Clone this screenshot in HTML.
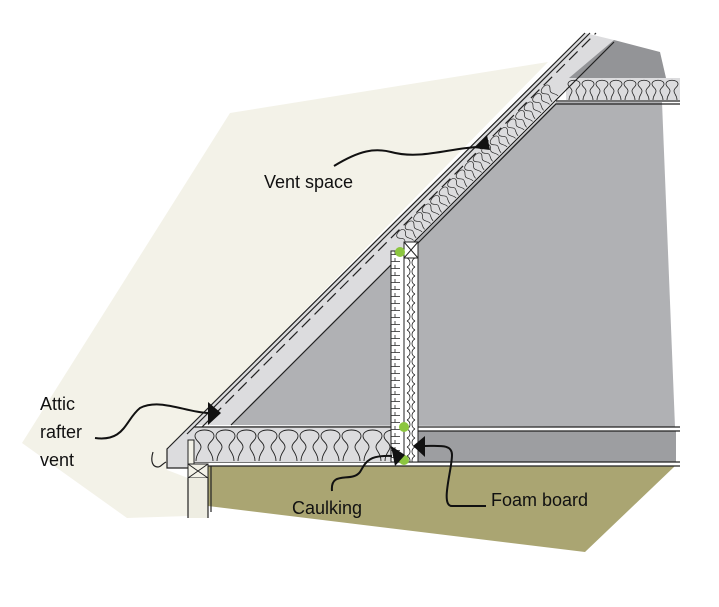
<!DOCTYPE html>
<html><head><meta charset="utf-8"><style>
html,body{margin:0;padding:0;background:#fff}
svg{display:block}
text{font-family:"Liberation Sans",sans-serif;font-size:18px;fill:#111}
</style></head><body>
<svg width="719" height="607" viewBox="0 0 719 607" xmlns="http://www.w3.org/2000/svg">
<defs>
<path id="sl" d="M1,0 C1,-5 4,-6 4,-9 C4,-12 0,-13 0,-16 C0,-21 12,-21 12,-16 C12,-13 8,-12 8,-9 C8,-6 11,-5 11,0" fill="none" stroke="#222" stroke-width="0.8"/>
<path id="bl" d="M2,0 C2,-8 7,-10 7,-14 C7,-19 1,-20 1,-25 C1,-33 20,-33 20,-25 C20,-20 14,-19 14,-14 C14,-10 19,-8 19,0" fill="none" stroke="#222" stroke-width="0.9"/>
<pattern id="lad" width="13" height="7" patternUnits="userSpaceOnUse" x="391" y="251">
<rect width="13" height="7" fill="#fff"/><path d="M0,3.5H9M4,0V3.5" stroke="#222" stroke-width="0.8"/>
</pattern>
<pattern id="wav" width="14" height="9" patternUnits="userSpaceOnUse" x="404" y="258">
<rect width="14" height="9" fill="#fff"/><path d="M3,0 C7,2 7,7 3,9 M11,0 C7,2 7,7 11,9" stroke="#222" stroke-width="0.8" fill="none"/>
</pattern>
</defs>
<polygon points="230,113 548,62 169,449 167,470 188,478 188,516 127,518 22,443" fill="#f3f2e8"/>
<polygon points="208,466 675,466 585,552 208,506" fill="#aaa572"/>
<polygon points="585,33 614,40 231,425 194,425 194,462 188,468 167,468 167,449" fill="#dcdcde"/>
<polygon points="231,425 556,102 662,102 675,427" fill="#b0b1b4"/>
<polygon points="614,40 660,52 666,78 569,78" fill="#939497"/>
<rect x="418" y="431" width="258" height="31" fill="#9d9ea1"/>
<rect x="566" y="78" width="114" height="22" fill="#dcdcde"/>
<g transform="translate(568,100)">
<use href="#sl" x="0"/><use href="#sl" x="14"/><use href="#sl" x="28"/><use href="#sl" x="42"/><use href="#sl" x="56"/><use href="#sl" x="70"/><use href="#sl" x="84"/><use href="#sl" x="98"/>
</g>
<g>
<use href="#sl" transform="translate(407,247) rotate(-45) scale(0.85)"/>
<use href="#sl" transform="translate(415.5,238.5) rotate(-45) scale(0.85)"/>
<use href="#sl" transform="translate(424,230) rotate(-45) scale(0.85)"/>
<use href="#sl" transform="translate(432.5,221.5) rotate(-45) scale(0.85)"/>
<use href="#sl" transform="translate(441,213) rotate(-45) scale(0.85)"/>
<use href="#sl" transform="translate(449.5,204.5) rotate(-45) scale(0.85)"/>
<use href="#sl" transform="translate(458,196) rotate(-45) scale(0.85)"/>
<use href="#sl" transform="translate(466.5,187.5) rotate(-45) scale(0.85)"/>
<use href="#sl" transform="translate(475,179) rotate(-45) scale(0.85)"/>
<use href="#sl" transform="translate(483.5,170.5) rotate(-45) scale(0.85)"/>
<use href="#sl" transform="translate(492,162) rotate(-45) scale(0.85)"/>
<use href="#sl" transform="translate(500.5,153.5) rotate(-45) scale(0.85)"/>
<use href="#sl" transform="translate(509,145) rotate(-45) scale(0.85)"/>
<use href="#sl" transform="translate(517.5,136.5) rotate(-45) scale(0.85)"/>
<use href="#sl" transform="translate(526,128) rotate(-45) scale(0.85)"/>
<use href="#sl" transform="translate(534.5,119.5) rotate(-45) scale(0.85)"/>
<use href="#sl" transform="translate(543,111) rotate(-45) scale(0.85)"/>
<use href="#sl" transform="translate(551.5,102.5) rotate(-45) scale(0.85)"/>
</g>
<g stroke="#222" fill="none" stroke-width="1.2">
<path d="M169,447 L585,33"/>
<path d="M187,434 L590,33"/>
<path d="M200,429 L596,33" stroke-dasharray="12,6"/>
<path d="M231,425 L614,42"/>
<path d="M418,243 L556,104 H680"/>
<path d="M556,101 H680"/>
<path d="M231,427 H680"/>
<path d="M418,431 H680"/>
<path d="M194,462 H680 M208,466 H680"/>
<path d="M169,447 L167,449 V468 H188"/>
<path d="M153,452 C150,462 153,467 158,467 C161,467 162,464 166,462"/>
</g>
<rect x="194" y="427" width="210" height="35" fill="#dcdcde"/>
<g transform="translate(194,461)">
<use href="#bl" x="0"/><use href="#bl" x="21"/><use href="#bl" x="42"/><use href="#bl" x="63"/><use href="#bl" x="84"/><use href="#bl" x="105"/><use href="#bl" x="126"/><use href="#bl" x="147"/><use href="#bl" x="168"/><use href="#bl" x="189"/>
</g>
<path d="M194,427 H404" stroke="#222" stroke-width="1.2"/>
<rect x="188" y="440" width="6" height="24" fill="#f3f2e8" stroke="#222" stroke-width="1"/>
<rect x="188" y="464" width="20" height="14" fill="#f3f2e8" stroke="#222" stroke-width="1"/>
<path d="M188,464 L208,478 M208,464 L188,478" stroke="#222"/>
<rect x="188" y="478" width="20" height="40" fill="#eeede2"/>
<path d="M188,478 V518 M208,478 V518 M211,466 V512" stroke="#222" stroke-width="1.2"/>
<rect x="391" y="251" width="13" height="211" fill="url(#lad)" stroke="#222" stroke-width="1"/>
<rect x="404" y="242" width="14" height="220" fill="url(#wav)" stroke="#222" stroke-width="1"/>
<rect x="404" y="242" width="14" height="16" fill="#fff" stroke="#222" stroke-width="1"/>
<path d="M404,242 L418,258 M418,242 L404,258" stroke="#222"/>
<circle cx="400" cy="252" r="5" fill="#8cc63f"/>
<circle cx="404" cy="427" r="5" fill="#8cc63f"/>
<circle cx="404" cy="460" r="5" fill="#8cc63f"/>
<g stroke="#111" stroke-width="2" fill="none">
<path d="M334,166 C360,150 375,148 391,152 C420,160 450,148 478,147"/>
<path d="M95,438 C125,442 125,420 140,408 C160,398 185,412 208,413"/>
<path d="M332,491 C330,470 352,483 360,472 C366,462 368,455 392,456"/>
<path d="M486,506 H452 C440,506 452,470 452,455 C452,444 440,446 424,446"/>
</g>
<g fill="#111">
<polygon points="490,150 474,148 487,135"/>
<polygon points="221,413 208,402 208,425"/>
<polygon points="405,455 391,446 395,466"/>
<polygon points="413,446 425,436 425,457"/>
</g>
<text x="264" y="188">Vent space</text>
<text x="40" y="410">Attic</text>
<text x="40" y="438">rafter</text>
<text x="40" y="466">vent</text>
<text x="292" y="514">Caulking</text>
<text x="491" y="506">Foam board</text>
</svg>
</body></html>
